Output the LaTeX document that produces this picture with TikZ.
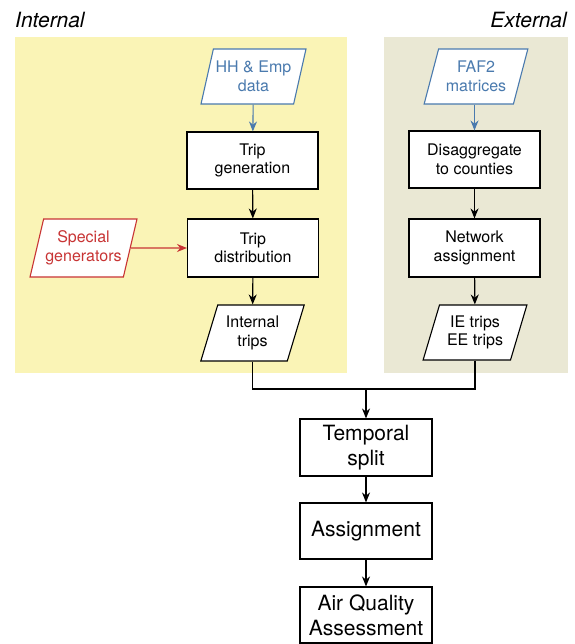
\documentclass[tikz,border=0pt]{standalone}
\usepackage{fontspec}
\setmainfont{TeX Gyre Heros}
\usetikzlibrary{shapes.geometric,arrows.meta}

\definecolor{intbg}{RGB}{250,244,182}
\definecolor{extbg}{RGB}{234,232,212}
\definecolor{datablue}{RGB}{74,122,174}
\definecolor{datared}{RGB}{200,52,52}

\tikzset{
  smalltext/.style={font=\fontsize{16}{18.5}\selectfont},
  bigtext/.style={font=\fontsize{21}{25}\selectfont},
  process/.style={draw=black, fill=white, line width=1.1pt,
    minimum width=131pt, minimum height=57pt, align=center,
    inner sep=0pt, smalltext},
  bigprocess/.style={process, minimum width=132pt, bigtext},
  dataio/.style={trapezium, trapezium left angle=69,
    trapezium right angle=111, trapezium stretches=true,
    draw=black, fill=white, line width=1.1pt,
    minimum width=104pt, minimum height=56pt, align=center,
    inner sep=0pt, smalltext},
  flow/.style={line width=1.1pt, -{Stealth[length=10pt,width=8pt]}},
  link/.style={line width=1.1pt},
  panellabel/.style={font=\fontsize{21}{25}\selectfont\itshape, inner sep=0pt},
}

\begin{document}
\begin{tikzpicture}[x=1pt, y=-1pt]
  \useasboundingbox (0,0) rectangle (574,644);

  % background panels
  \fill[intbg] (15,37) rectangle (347,373);
  \fill[extbg] (384,37) rectangle (568,373);

  \node[panellabel, anchor=base west] (lblint) at (15,28) {Internal};
  \node[panellabel, anchor=base east] (lblext) at (567,28) {External};

  % internal column
  \node[dataio, draw=datablue, text=datablue, minimum width=105pt, minimum height=55pt]
    (hhemp) at (253.5,76.5) {HH \& Emp\\data};
  \node[process] (tripgen) at (252.5,160.5) {Trip\\generation};
  \node[process, minimum height=58pt] (tripdist) at (253,248) {Trip\\distribution};
  \node[dataio] (inttrips) at (252.5,333) {Internal\\trips};
  \node[dataio, draw=datared, text=datared, minimum width=107pt, minimum height=58pt]
    (special) at (83.5,248) {Special\\generators};

  % external column
  \node[dataio, draw=datablue, text=datablue, minimum width=104pt, minimum height=55pt]
    (faf) at (476,76.5) {FAF2\\matrices};
  \node[process] (disagg) at (474.5,159.5) {Disaggregate\\to counties};
  \node[process, minimum height=58pt] (netassign) at (474.5,248) {Network\\assignment};
  \node[dataio, minimum height=55pt] (extrips) at (475,332.5) {IE trips\\EE trips};

  % common steps
  \coordinate (merge) at (366,389);
  \node[bigprocess] (temporal) at (366,447.5) {Temporal\\split};
  \node[bigprocess, minimum height=56pt] (assign) at (366,531) {Assignment};
  \node[bigprocess, minimum height=56pt] (airq) at (366,615) {Air Quality\\Assessment};

  % connectors
  \draw[flow, datablue] (hhemp) -- (tripgen);
  \draw[flow] (tripgen) -- (tripdist);
  \draw[flow, datared] (special.east) -- (tripdist.west);
  \draw[flow] (tripdist) -- (inttrips);

  \draw[flow, datablue] (faf.south -| disagg.north) -- (disagg);
  \draw[flow] (disagg) -- (netassign);
  \draw[flow] (netassign) -- (extrips);

  \draw[link] (inttrips.south) |- (merge);
  \draw[link] (extrips.south) |- (merge);
  \draw[flow] (merge) -- (temporal);
  \draw[flow] (temporal) -- (assign);
  \draw[flow] (assign) -- (airq);
\end{tikzpicture}
\end{document}
